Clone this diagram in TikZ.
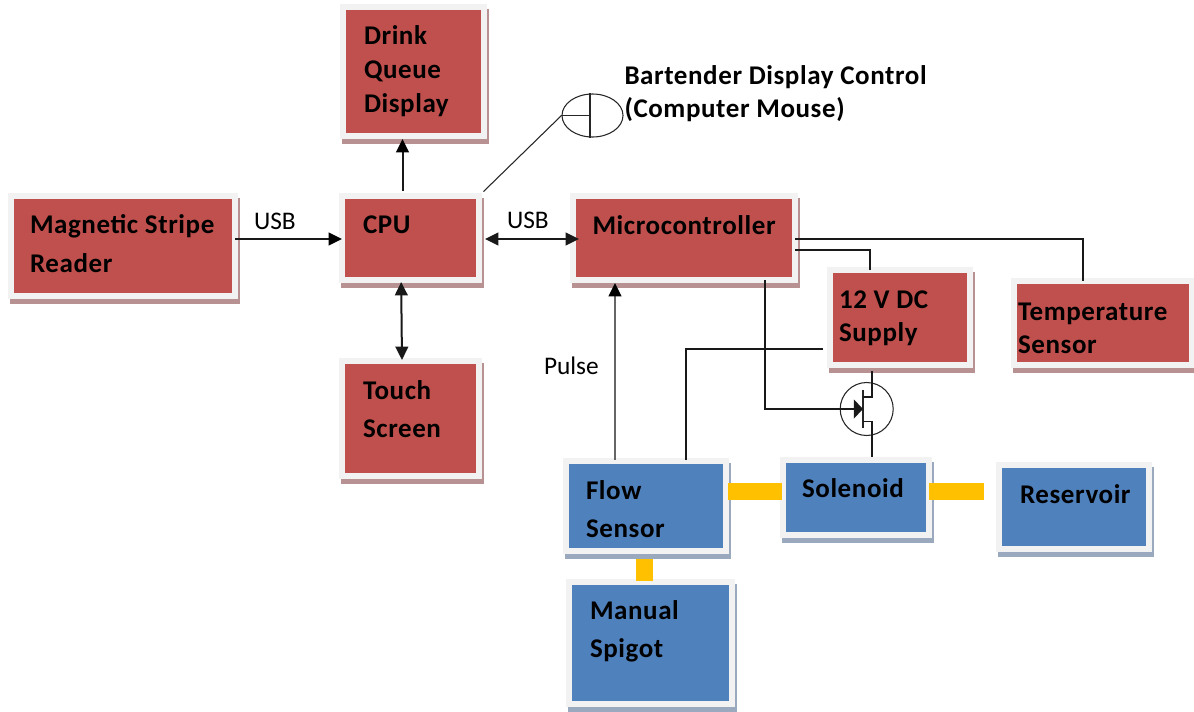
\documentclass[tikz,border=0pt]{standalone}
\usepackage{fontspec}
\setmainfont{Carlito}[BoldFeatures={LetterSpace=2.2}]
\usetikzlibrary{arrows.meta,shadows,shapes.geometric,calc}
\newdimen\pxu \pxu=0.75pt
\newcommand\bt[4]{\makebox[0pt][l]{\hspace*{#1\pxu}\raisebox{\dimexpr #2\pxu-\pxu\relax}[0pt][0pt]{\vtop{\baselineskip=#3\pxu\lineskiplimit=-100pt\relax #4}}}}
\newcommand\tl[1]{\hbox{#1}}
\definecolor{bandgray}{HTML}{F2F2F2}
\definecolor{redfill}{HTML}{C0504D}
\definecolor{bluefill}{HTML}{4F81BD}
\definecolor{redshade}{HTML}{B89292}
\definecolor{blueshade}{HTML}{9AA9BE}
\definecolor{pipeorange}{HTML}{FFC000}
\tikzset{
  boxbase/.style={rectangle,inner sep=0pt,line width=4.5pt,draw=bandgray,
    font=\fontsize{20.25pt}{24pt}\selectfont\bfseries,text=black},
  redbox/.style={boxbase,fill=redfill,
    drop shadow={shadow xshift=1.5pt,shadow yshift=-3.75pt,fill=redshade,draw=redshade,line width=4.5pt,opacity=1}},
  bluebox/.style={boxbase,fill=bluefill,
    drop shadow={shadow xshift=1.5pt,shadow yshift=-3.75pt,fill=blueshade,draw=blueshade,line width=4.5pt,opacity=1}},
  size/.style 2 args={minimum width=#1*0.75pt,minimum height=#2*0.75pt},
  wire/.style={draw=black!90,line width=1.1pt},
  arrowwire/.style={wire,line width=1.5pt,-{Triangle[length=10pt,width=9.5pt,color=black]}},
  biwire/.style={wire,line width=1.5pt,{Triangle[length=10pt,width=9.5pt]}-{Triangle[length=10pt,width=9.5pt]}},
  thin wire/.style={draw=black!85,line width=0.8pt},
  pipe/.style={draw=pipeorange,line width=12.75pt},
  plainlabel/.style={inner sep=0pt,font=\fontsize{19pt}{23pt}\selectfont,text=black},
  boldlabel/.style={inner sep=0pt,font=\fontsize{20.25pt}{24pt}\selectfont\bfseries,text=black},
}
\begin{document}
\begin{tikzpicture}[x=0.75pt,y=-0.75pt]
\useasboundingbox (0,0) rectangle (1194,711);
% boxes
\node[redbox,size={224}{100}] (mag) at (123,246) {\bt{-93}{14}{39}{\tl{Magnetic Stripe}\tl{Reader}}};
\node[redbox,size={137}{84}] (cpu) at (410.5,238) {\bt{-47.5}{6}{38}{\tl{CPU}}};
\node[redbox,size={137}{115}] (touch) at (410.5,418.5) {\bt{-47.5}{20.5}{38}{\tl{Touch}\tl{Screen}}};
\node[redbox,size={141}{129}] (drink) at (413.5,71.5) {\bt{-49.5}{28}{34}{\tl{Drink}\tl{Queue}\tl{Display}}};
\node[redbox,size={222}{84}] (micro) at (684,238) {\bt{-91.5}{5}{38}{\tl{Microcontroller}}};
\node[redbox,size={140}{95}] (supply) at (900,317.5) {\bt{-61}{10.5}{33}{\tl{12 V DC}\tl{Supply}}};
\node[redbox,size={178}{84}] (temp) at (1103,323) {\bt{-85}{4}{33}{\tl{Temperature}\tl{Sensor}}};
\node[bluebox,size={146}{75}] (sol) at (856,497.5) {\bt{-54}{1.5}{38}{\tl{Solenoid}}};
\node[bluebox,size={150}{84}] (res) at (1074,507) {\bt{-54}{5}{38}{\tl{Reservoir}}};
\node[bluebox,size={160}{90}] (flow) at (646,506) {\bt{-60}{8}{38}{\tl{Flow}\tl{Sensor}}};
\node[bluebox,size={163}{122}] (manual) at (650.5,643) {\bt{-60.5}{25}{38}{\tl{Manual}\tl{Spigot}}};
% mouse
\node[ellipse,draw=black!85,line width=0.8pt,minimum width=61*0.75pt,minimum height=43*0.75pt,inner sep=0pt] (mouse) at (592.5,115.5) {};
\coordinate (mousemid) at ([xshift=-1.9pt]mouse.center);
\draw[thin wire] ([xshift=-1.9pt]mouse.north) -- ([xshift=-1.9pt]mouse.south);
\draw[thin wire] (mouse.west) -- (mousemid);
\draw[thin wire,shorten <=1.5pt] (cpu.north east) -- (mouse.west);
\node[boldlabel] (bart) at (624.5,83) {\bt{0}{0}{33}{\tl{Bartender Display Control}\tl{(Computer Mouse)}}};
% labels
\node[plainlabel] (usba) at (254,229) {\bt{0}{1}{30}{\tl{USB}}};
\node[plainlabel] (usbb) at (507,228) {\bt{0}{1}{30}{\tl{USB}}};
\node[plainlabel] (pulse) at (544,374) {\bt{0}{1}{30}{\tl{Pulse}}};
% pipes
\coordinate (pipey) at (0,491.5);
\draw[pipe,shorten <=-0.75pt,shorten >=-1.5pt] (flow.east |- pipey) -- (sol.west |- pipey);
\coordinate (resgap) at (984,491.5);
\draw[pipe,shorten <=-2.25pt] (sol.east |- pipey) -- (resgap);
\draw[pipe,shorten <=3.75pt,shorten >=-1.5pt] ([xshift=-1.5pt]flow.south) -- ([xshift=-1.5pt]flow.south |- manual.north);
% transistor
\node[circle,draw=black!85,line width=0.8pt,minimum size=53*0.75pt,inner sep=0pt] (fet) at (866.7,409) {};
\coordinate (chan) at ([xshift=-2.8pt]fet.center);
\coordinate (drain) at ($(chan)+(0,9pt)$);
\coordinate (source) at ($(chan)+(0,-9.4pt)$);
\coordinate (legx) at ([xshift=-21pt]supply.south);
\draw[thin wire,line width=1pt] ($(chan)+(0,-14.2pt)$) -- ($(chan)+(0,14.2pt)$);
\draw[wire] (drain) -- (drain -| legx) -- ([yshift=-2.25pt]legx);
\draw[wire] (source) -- (source -| legx) -- (legx |- sol.north);
% connectors
\draw[arrowwire,shorten <=-2.25pt,shorten >=-2.25pt] ([yshift=-0.75pt]mag.east |- cpu.west) -- ([yshift=-0.75pt]cpu.west);
\draw[arrowwire,shorten <=1.5pt] ([xshift=-6pt]cpu.north) -- ([xshift=-6pt]cpu.north |- drink.south);
\draw[biwire,shorten <=2.25pt,shorten >=-6.75pt] ([yshift=-0.75pt]cpu.east) -- ([yshift=-0.75pt]micro.west);
\draw[biwire,shorten <=-0.75pt,shorten >=-1.5pt] ([xshift=-7pt]cpu.south) -- ([xshift=-6.4pt]touch.north);
\draw[wire,shorten <=-2.25pt,shorten >=-2.25pt] ([yshift=-0.75pt]micro.east) -| ([xshift=-15pt]temp.north);
\draw[wire,shorten <=-2.25pt,shorten >=-2.25pt] ([yshift=-9pt]micro.east) -| ([xshift=-22.5pt]supply.north);
\draw[wire,line width=1.3pt,-{Triangle[length=6.75pt,width=14pt]},shorten <=-2.25pt] ([xshift=60.75pt]micro.south) |- (chan);
\draw[wire,shorten <=3pt,shorten >=-1.5pt] ([yshift=-23.6pt]supply.west) -| ([xshift=30pt]flow.north);
\draw[arrowwire,draw=black!60,shorten <=-1.5pt] ([xshift=-23.25pt]flow.north) -- ([xshift=-23.25pt]flow.north |- micro.south);
\end{tikzpicture}
\end{document}
